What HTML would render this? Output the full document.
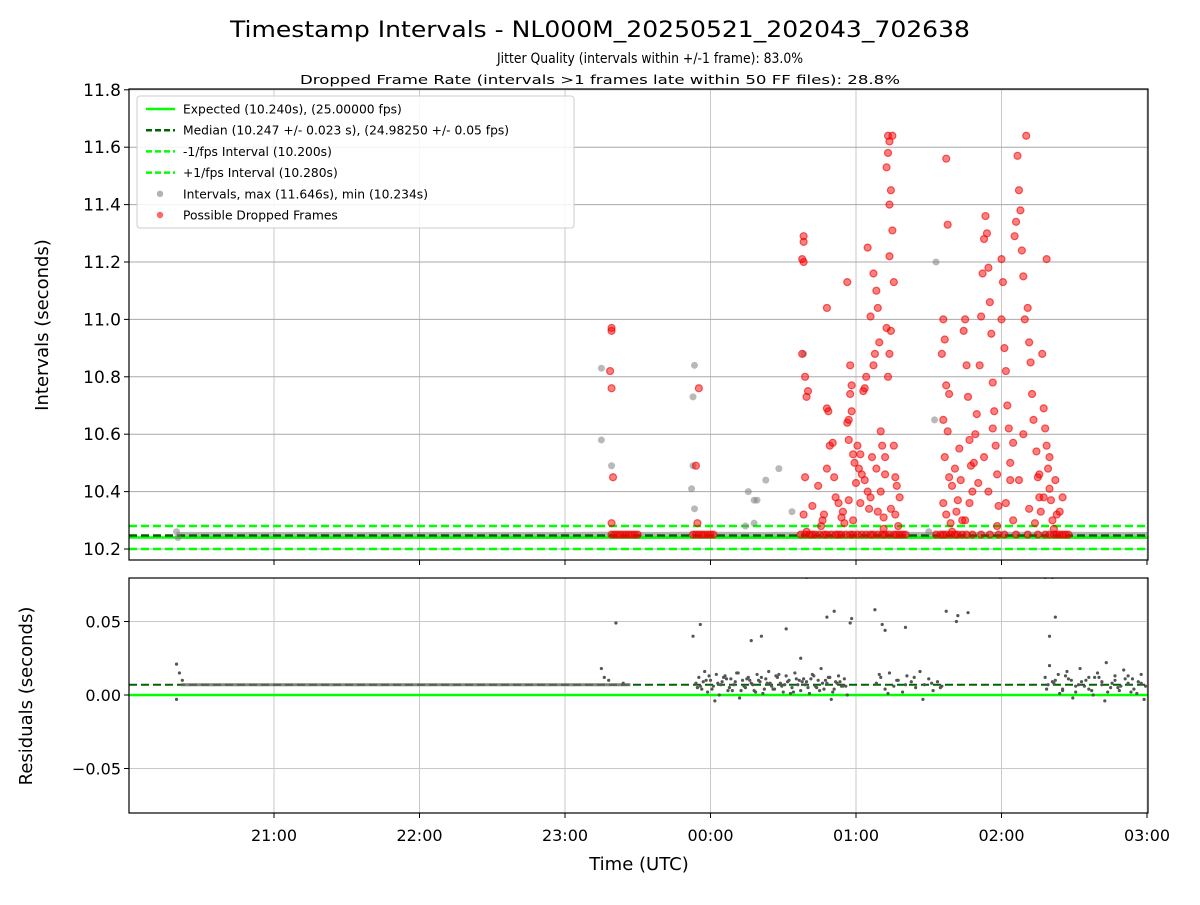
<!DOCTYPE html>
<html><head><meta charset="utf-8"><style>
body{margin:0;background:#fff;}
svg text{font-family:"DejaVu Sans","Liberation Sans",sans-serif;fill:#000;}
</style></head><body>
<svg id="chart" width="1200" height="900" xmlns="http://www.w3.org/2000/svg">
<rect width="1200" height="900" fill="#fff"/>
<text x="600" y="37" font-size="22" text-anchor="middle" textLength="740" lengthAdjust="spacingAndGlyphs">Timestamp Intervals - NL000M_20250521_202043_702638</text>
<text x="650" y="63" font-size="14" text-anchor="middle" textLength="306" lengthAdjust="spacingAndGlyphs">Jitter Quality (intervals within +/-1 frame): 83.0%</text>
<text x="600" y="84" font-size="12" text-anchor="middle" textLength="600" lengthAdjust="spacingAndGlyphs">Dropped Frame Rate (intervals &gt;1 frames late within 50 FF files): 28.8%</text>
<g id="topPlot"></g>
<g id="botPlot"></g>
<text transform="translate(48,325) rotate(-90)" font-size="18" text-anchor="middle">Intervals (seconds)</text>
<text transform="translate(32,696) rotate(-90)" font-size="18" text-anchor="middle">Residuals (seconds)</text>
<text x="639" y="870" font-size="18" text-anchor="middle">Time (UTC)</text>
<g id="legend"></g>
</svg>
<script>
// hours after 20:00
const xTickHours=[1,2,3,4,5,6,7];
const xTickLabels=["21:00","22:00","23:00","00:00","01:00","02:00","03:00"];
const yTopTicks=[10.2,10.4,10.6,10.8,11.0,11.2,11.4,11.6,11.8];
const yBotTicks=[-0.05,0.00,0.05];
const yBotLabels=["\u22120.05","0.00","0.05"];
const expected=10.240, median=10.247, lowFps=10.200, highFps=10.280, residMedian=0.007;
const baseTimes=[0.33,1,2,3,3.3,3.6,3.9,4.3,4.7,5.1,5.5,5.9,6.3,6.7,7];
const baseVals=[10.247,10.247,10.247,10.247,10.248,10.247,10.248,10.247,10.248,10.248,10.247,10.248,10.248,10.247,10.247];
const grayT=[3.25,3.25,3.32,3.89,3.88,3.88,3.87,3.89,4.26,4.30,4.32,4.24,4.38,4.47,4.56,4.64,5.55,5.54,5.50,4.30,0.33,0.34];
const grayV=[10.83,10.58,10.49,10.84,10.73,10.49,10.41,10.34,10.40,10.37,10.37,10.28,10.44,10.48,10.33,10.88,11.20,10.65,10.26,10.29,10.26,10.24];
const redT=[3.32,3.32,3.31,3.32,3.33,3.32,3.32,3.34,3.36,3.38,3.40,3.42,3.44,3.46,3.48,3.50,
3.92,3.90,3.91,3.88,3.90,3.92,3.94,3.96,3.98,4.00,4.02,
4.64,4.64,4.63,4.64,4.63,4.65,4.66,4.67,4.65,4.64,4.66,
4.80,4.82,4.80,4.81,4.80,4.86,4.78,4.76,4.84,4.92,4.94,4.95,4.97,4.96,4.94,4.96,4.97,4.95,4.98,4.99,4.95,4.98,4.90,
5.08,5.12,5.15,5.14,5.10,5.07,5.06,5.05,5.13,5.16,5.12,5.03,5.02,5.04,5.08,5.10,5.14,5.17,5.18,5.20,5.15,5.19,5.22,5.23,5.21,5.22,5.25,5.24,5.23,5.25,5.23,5.26,5.21,5.24,5.23,5.22,5.26,5.27,5.28,5.29,5.24,5.20,
5.62,5.63,5.60,5.61,5.59,5.62,5.64,5.60,5.63,5.61,5.64,5.60,5.62,5.65,5.66,5.68,5.70,5.72,5.73,
5.74,5.75,5.76,5.77,5.78,5.79,5.80,5.82,5.83,5.85,5.86,5.87,5.88,5.89,5.90,5.91,5.92,5.93,5.94,5.95,5.96,5.97,5.98,6.00,6.01,6.00,6.02,6.03,6.04,6.05,6.06,6.08,6.09,6.10,6.11,6.12,6.13,6.14,6.15,6.16,6.17,6.18,6.19,6.20,6.21,6.22,6.24,6.25,6.26,6.27,6.28,6.29,6.30,6.31,6.32,6.33,6.34,6.35,6.31,6.36,6.42,6.38,
4.62,4.65,4.68,4.70,4.72,4.75,4.78,4.80,4.83,4.86,4.88,4.90,4.93,4.96,4.98,5.01,5.04,5.07,5.10,5.12,5.15,5.18,5.20,5.23,5.26,5.28,5.30,5.32,5.34,
5.55,5.58,5.60,5.62,5.65,5.68,5.70,5.73,5.76,5.80,5.86,5.92,5.98,6.02,6.10,6.18,6.25,6.30,6.33,6.36,6.38,6.40,6.42,6.44,6.46,
4.70,4.74,4.77,4.85,4.88,4.91,5.00,5.01,5.03,5.06,5.09,5.11,5.17,5.19,5.27,5.30,
5.66,5.69,5.71,5.75,5.78,5.81,5.84,5.88,5.91,5.94,5.97,6.03,6.06,6.08,6.12,6.15,6.19,6.23,6.26,6.29,6.33,6.37,6.40];
const redV=[10.97,10.96,10.82,10.76,10.45,10.29,10.25,10.25,10.25,10.25,10.25,10.25,10.25,10.25,10.25,10.25,
10.76,10.49,10.29,10.25,10.25,10.25,10.25,10.25,10.25,10.25,10.25,
11.29,11.27,11.21,11.20,10.88,10.80,10.73,10.75,10.45,10.32,10.26,
10.48,10.56,10.69,10.68,11.04,10.38,10.32,10.28,10.57,10.29,10.64,10.65,10.68,10.84,11.13,10.74,10.77,10.58,10.53,10.50,10.37,10.30,10.31,
11.25,11.16,11.04,11.10,11.01,10.80,10.76,10.75,10.88,10.92,10.84,10.53,10.48,10.46,10.40,10.38,10.48,10.61,10.56,10.46,10.33,10.31,11.64,11.62,11.53,11.58,11.64,11.45,11.40,11.31,11.22,11.13,10.97,10.96,10.88,10.80,10.56,10.45,10.42,10.28,10.34,10.52,
11.56,11.33,11.00,10.93,10.88,10.77,10.74,10.65,10.61,10.52,10.45,10.36,10.32,10.29,10.26,10.48,10.37,10.44,10.30,
10.96,11.00,10.84,10.73,10.58,10.49,10.40,10.60,10.67,10.84,11.01,11.16,11.28,11.36,11.30,11.18,11.06,10.95,10.78,10.68,10.56,10.46,10.35,11.21,11.13,11.00,10.90,10.82,10.70,10.62,10.44,10.30,11.29,11.34,11.57,11.45,11.38,11.24,11.15,11.00,11.64,11.04,10.92,10.85,10.74,10.65,10.54,10.45,10.38,10.33,10.88,10.69,10.62,10.56,10.48,10.41,10.37,10.30,11.21,10.27,10.38,10.32,
10.25,10.25,10.25,10.25,10.25,10.25,10.25,10.25,10.25,10.25,10.25,10.25,10.25,10.25,10.25,10.25,10.25,10.25,10.25,10.25,10.25,10.25,10.25,10.25,10.25,10.25,10.25,10.25,10.25,
10.25,10.25,10.25,10.25,10.25,10.25,10.25,10.25,10.25,10.25,10.25,10.25,10.25,10.25,10.25,10.25,10.25,10.25,10.25,10.25,10.25,10.25,10.25,10.25,10.25,
10.35,10.42,10.30,10.45,10.36,10.33,10.43,10.56,10.36,10.44,10.34,10.52,10.40,10.27,10.32,10.38,
10.42,10.33,10.55,10.30,10.36,10.50,10.43,10.52,10.40,10.62,10.28,10.36,10.50,10.57,10.44,10.60,10.34,10.29,10.46,10.38,10.52,10.44,10.33];
const resLineT=[0.36,1,2,3,3.45];
const resLineV=[0.007,0.007,0.007,0.007,0.007];
const resT=[0.33,0.33,0.35,0.37,3.25,3.27,3.35,3.30,3.40,3.88,3.93,4.28,4.35,4.52,4.66,4.62,4.85,4.80,4.96,4.97,5.13,5.18,5.20,5.34,5.62,5.69,5.70,5.77,5.99,6.30,6.35,6.37,6.33,
3.90,3.92,3.94,3.96,3.98,4.00,4.02,4.04,4.06,4.08,4.10,4.12,4.14,4.16,4.18,4.20,4.22,4.24,4.26,4.28,4.30,4.32,4.34,4.36,4.38,4.40,4.42,4.44,4.46,4.48,4.50,4.52,4.54,4.56,4.58,4.60,4.62,4.64,4.66,4.68,4.70,4.72,4.74,4.76,4.78,4.80,4.82,4.84,4.86,4.88,4.90,4.92,4.94,
3.91,3.95,3.99,4.03,4.07,4.11,4.15,4.19,4.23,4.27,4.31,4.35,4.39,4.43,4.47,4.51,4.55,4.59,4.63,4.67,4.71,4.75,4.79,4.83,4.87,4.91,
5.14,5.17,5.20,5.23,5.26,5.29,5.32,5.35,5.38,5.41,5.44,5.47,5.50,5.53,5.56,5.59,5.16,5.22,5.28,5.34,5.40,5.46,5.52,5.58,
6.30,6.33,6.36,6.39,6.42,6.45,6.48,6.51,6.54,6.57,6.60,6.63,6.66,6.69,6.72,6.75,6.78,6.81,6.84,6.87,6.90,6.93,6.96,6.99,
6.31,6.35,6.40,6.44,6.49,6.53,6.58,6.62,6.67,6.71,6.76,6.80,6.85,6.89,6.94,6.98,
3.93,3.97,4.01,4.05,4.09,4.13,4.17,4.21,4.25,4.29,4.33,4.37,4.41,4.45,4.49,4.53,4.57,4.61,4.65,4.69,4.73,4.77,4.81,4.85,4.89,4.93,
6.32,6.37,6.42,6.46,6.51,6.55,6.60,6.64,6.69,6.73,6.78,6.82,6.87,6.91,6.96];
const resV=[0.021,-0.003,0.015,0.010,0.018,0.012,0.049,0.010,0.008,0.040,0.048,0.037,0.040,0.045,0.080,0.025,0.057,0.053,0.049,0.052,0.058,0.048,0.044,0.046,0.057,0.050,0.054,0.056,0.080,0.080,0.080,0.053,0.040,
0.008,0.012,0.004,0.016,0.002,0.010,0.006,0.014,0.000,0.009,0.013,0.003,0.011,0.007,0.015,-0.002,0.010,0.005,0.012,0.008,0.003,0.014,0.009,0.001,0.011,0.016,0.006,0.004,0.012,0.008,0.002,0.013,0.010,0.005,0.015,0.007,0.003,0.011,0.009,0.001,0.014,0.006,0.010,0.018,0.004,0.008,0.012,0.002,0.009,0.013,0.006,0.011,0.000,
0.005,0.009,0.013,-0.004,0.007,0.011,0.003,0.015,0.006,0.010,0.002,0.012,0.008,0.004,0.014,0.007,0.001,0.011,0.009,0.005,0.013,0.003,0.010,-0.003,0.008,0.006,
0.008,0.012,0.004,0.015,0.006,0.010,0.002,0.013,0.009,0.005,0.016,0.007,0.011,0.003,0.009,0.006,0.014,0.001,0.010,0.007,0.012,-0.003,0.008,0.005,
0.012,0.020,0.008,0.014,0.004,0.016,0.010,0.002,0.018,0.006,0.012,0.000,0.015,0.009,0.022,0.005,0.013,0.003,0.017,0.008,0.011,0.001,0.014,0.006,
0.004,0.009,0.001,0.013,-0.002,0.007,0.010,0.003,0.012,-0.004,0.008,0.005,0.011,0.002,0.009,-0.003,
0.006,0.010,0.004,0.008,0.012,0.005,0.009,0.003,0.011,0.007,0.010,0.004,0.008,0.013,0.006,0.009,0.002,0.010,0.007,0.011,0.005,0.008,0.012,0.004,0.009,0.006,
0.007,0.010,0.003,0.011,0.006,0.009,0.004,0.012,0.007,0.002,0.010,0.006,0.013,0.004,0.008];

const NS="http://www.w3.org/2000/svg";
const L=129,R=1148;
const X=t=>128.5+t*145.5;
const YT=v=>549-(v-10.2)*287;
const YB=r=>695-r*1470;
const TT=89,TB=560,BT=578,BB=813;
function mk(parent,tag,attrs){const e=document.createElementNS(NS,tag);for(const k in attrs)e.setAttribute(k,attrs[k]);parent.appendChild(e);return e;}
const topG=document.getElementById('topPlot'),botG=document.getElementById('botPlot');
const defs=mk(document.getElementById('chart'),'defs',{});
const c1=mk(defs,'clipPath',{id:'ct'});mk(c1,'rect',{x:L,y:TT,width:R-L,height:TB-TT});
const c2=mk(defs,'clipPath',{id:'cb'});mk(c2,'rect',{x:L,y:BT,width:R-L,height:BB-BT});
[[topG,TT,TB],[botG,BT,BB]].forEach(([g,t0,t1])=>{
  xTickHours.forEach((h,i)=>{
    const gl=mk(g,'line',{x1:X(h),x2:X(h),y1:t0,y2:t1,stroke:'#c8c8c8','stroke-width':1});
    
    
    const tk=mk(g,'line',{x1:X(h),x2:X(h),y1:t1,y2:t1+5,stroke:'#000'});
    
    
  });
});
xTickHours.forEach((h,i)=>{
  const t=mk(botG,'text',{x:X(h),y:BB+28,'font-size':16,'text-anchor':'middle'});t.textContent=xTickLabels[i];
  
  
});
yTopTicks.forEach(v=>{
  const gl=mk(topG,'line',{x1:L,x2:R,y1:YT(v),y2:YT(v),stroke:'#a8a8a8'});
  
  
  mk(topG,'line',{x1:L-5,x2:L,y1:YT(v),y2:YT(v),stroke:'#000'});
  const t=mk(topG,'text',{x:L-8,y:YT(v)+6,'font-size':17,'text-anchor':'end'});t.textContent=v.toFixed(1);
  
  
});
yBotTicks.forEach((v,i)=>{
  const gl=mk(botG,'line',{x1:L,x2:R,y1:YB(v),y2:YB(v),stroke:'#c8c8c8'});
  
  
  mk(botG,'line',{x1:L-5,x2:L,y1:YB(v),y2:YB(v),stroke:'#000'});
  const t=mk(botG,'text',{x:L-8,y:YB(v)+6,'font-size':16,'text-anchor':'end'});t.textContent=yBotLabels[i];
  
  
});
const tp=mk(topG,'g',{'clip-path':'url(#ct)'});
const bp=mk(botG,'g',{'clip-path':'url(#cb)'});
const bl=mk(tp,'polyline',{points:baseTimes.map((t,i)=>X(t)+','+YT(baseVals[i])).join(' '),fill:'none',stroke:'rgba(128,128,128,0.6)','stroke-width':7});


const refs=[[expected,'#00ff00',''],[median,'#006400','8,4'],[lowFps,'#00ff00','8,4'],[highFps,'#00ff00','8,4']];
const refNames=['expected-line','median-line','minus-fps-line','plus-fps-line'];
refs.forEach((r,i)=>{const l=mk(tp,'line',{x1:L,x2:R,y1:YT(r[0]),y2:YT(r[0]),stroke:r[1],'stroke-width':2.5,'stroke-dasharray':r[2]});
  
  });
grayT.forEach((t,i)=>{const c=mk(tp,'circle',{cx:X(t),cy:YT(grayV[i]),r:3.5,fill:'rgba(128,128,128,0.55)'});
  
  });
redT.forEach((t,i)=>{const c=mk(tp,'circle',{cx:X(t),cy:YT(redV[i]),r:3.5,fill:'rgba(255,0,0,0.5)',stroke:'rgba(230,0,0,0.6)','stroke-width':1.2});
  
  });
const z=mk(bp,'line',{x1:L,x2:R,y1:YB(0),y2:YB(0),stroke:'#00ff00','stroke-width':2.5});


const rm=mk(bp,'line',{x1:L,x2:R,y1:YB(residMedian),y2:YB(residMedian),stroke:'#006400','stroke-width':2,'stroke-dasharray':'8,4'});


const rl=mk(bp,'polyline',{points:resLineT.map((t,i)=>X(t)+','+YB(resLineV[i])).join(' '),fill:'none',stroke:'rgba(100,100,100,0.8)','stroke-width':3});


resT.forEach((t,i)=>{const c=mk(bp,'circle',{cx:X(t),cy:YB(resV[i]),r:1.6,fill:'#555'});
  
  });
const f1=mk(topG,'rect',{x:L,y:TT,width:R-L,height:TB-TT,fill:'none',stroke:'#000','stroke-width':1.2});


const f2=mk(botG,'rect',{x:L,y:BT,width:R-L,height:BB-BT,fill:'none',stroke:'#000','stroke-width':1.2});


const lg=document.getElementById('legend');
mk(lg,'rect',{x:137,y:96,width:437,height:132,rx:3,fill:'rgba(255,255,255,0.85)',stroke:'#ccc'});
const entries=[['line','#00ff00','','Expected (10.240s), (25.00000 fps)'],['line','#006400','6,3','Median (10.247 +/- 0.023 s), (24.98250 +/- 0.05 fps)'],['line','#00ff00','6,3','-1/fps Interval (10.200s)'],['line','#00ff00','6,3','+1/fps Interval (10.280s)'],['dot','rgba(128,128,128,0.6)','','Intervals, max (11.646s), min (10.234s)'],['dot','rgba(255,0,0,0.6)','','Possible Dropped Frames']];
entries.forEach((e,i)=>{
  const y=109+i*21.2;
  const g=mk(lg,'g',{});
  
  
  if(e[0]==='line')mk(g,'line',{x1:146,x2:175,y1:y,y2:y,stroke:e[1],'stroke-width':2.5,'stroke-dasharray':e[2]});
  else mk(g,'circle',{cx:160,cy:y,r:3.2,fill:e[1]});
  const t=mk(g,'text',{x:183,y:y+4.5,'font-size':12.3});t.textContent=e[3];
});
</script>
</body></html>
